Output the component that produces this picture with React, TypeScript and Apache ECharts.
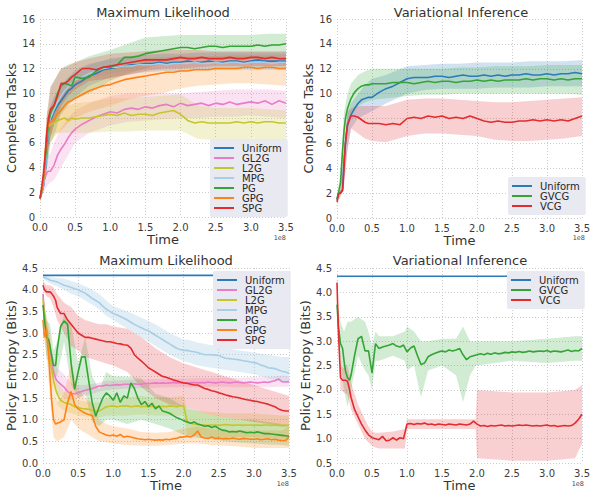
import React, { useEffect, useRef } from "react";
import * as echarts from "echarts";

// ---------- sampling grids (time in units of 1e8) ----------
const XT = [0, 0.02, 0.05, 0.08, 0.1, 0.12, 0.15, 0.2, 0.25, 0.3, 0.35, 0.4, 0.45, 0.5, 0.6, 0.7, 0.8, 0.9, 1.0, 1.1, 1.2, 1.3, 1.4, 1.5, 1.6, 1.7, 1.8, 1.9, 2.0, 2.1, 2.2, 2.3, 2.4, 2.5, 2.6, 2.7, 2.8, 2.9, 3.0, 3.1, 3.2, 3.3, 3.4, 3.5];
const XTB = [0, 0.05, 0.1, 0.15, 0.2, 0.3, 0.4, 0.5, 0.7, 1.0, 1.25, 1.5, 1.75, 2.0, 2.25, 2.5, 2.75, 3.0, 3.25, 3.5];
const XB = [0, 0.02, 0.05, 0.08, 0.1, 0.12, 0.15, 0.18, 0.2, 0.25, 0.3, 0.35, 0.4, 0.45, 0.5, 0.55, 0.6, 0.65, 0.7, 0.75, 0.8, 0.85, 0.9, 0.95, 1.0, 1.05, 1.1, 1.15, 1.2, 1.25, 1.3, 1.35, 1.4, 1.45, 1.5, 1.55, 1.6, 1.65, 1.7, 1.75, 1.8, 1.85, 1.9, 1.95, 2.0, 2.05, 2.1, 2.15, 2.2, 2.25, 2.3, 2.35, 2.4, 2.45, 2.5, 2.55, 2.6, 2.65, 2.7, 2.75, 2.8, 2.85, 2.9, 2.95, 3.0, 3.05, 3.1, 3.15, 3.2, 3.25, 3.3, 3.35, 3.4, 3.45, 3.5];
const XBB = [0, 0.05, 0.1, 0.15, 0.2, 0.3, 0.4, 0.5, 0.6, 0.7, 0.8, 0.9, 1.0, 1.2, 1.4, 1.6, 1.8, 2.0, 2.05, 2.2, 2.4, 2.6, 2.8, 3.0, 3.2, 3.4, 3.5];
const XRB = [0, 0.05, 0.1, 0.15, 0.2, 0.3, 0.4, 0.45, 0.5, 0.55, 0.6, 0.8, 0.97, 1.0, 1.1, 1.2, 1.3, 1.5, 1.7, 1.8, 1.9, 1.98, 2.0, 2.5, 3.0, 3.4, 3.5];
const X_FLAT = [0, 3.5];

const X_TICKS = [0, 0.5, 1, 1.5, 2, 2.5, 3, 3.5];

// ---------- top-left: Maximum Likelihood, completed tasks ----------
const TL_UNIFORM = [1.5, 1.9, 2.5, 4.0, 5.5, 7.0, 7.8, 8.5, 9.0, 9.4, 9.8, 10.2, 10.4, 10.7, 11.0, 11.4, 11.6, 11.9, 12.0, 12.1, 12.2, 12.3, 12.3, 12.4, 12.4, 12.5, 12.4, 12.5, 12.5, 12.6, 12.5, 12.5, 12.6, 12.5, 12.5, 12.6, 12.6, 12.5, 12.6, 12.7, 12.6, 12.6, 12.6, 12.6];
const TL_GL2G = [1.5, 2.0, 2.8, 3.3, 3.6, 3.7, 3.7, 4.2, 5.0, 5.5, 5.9, 6.4, 6.8, 7.1, 7.5, 7.8, 8.1, 8.3, 8.5, 8.4, 8.7, 8.8, 8.7, 8.9, 8.8, 9.0, 9.1, 8.9, 9.2, 9.0, 9.1, 9.2, 9.0, 9.2, 9.1, 9.3, 9.1, 9.2, 9.3, 9.2, 9.4, 9.1, 9.4, 9.2];
const TL_L2G = [1.5, 2.0, 3.0, 5.2, 6.8, 7.3, 7.5, 7.6, 7.8, 7.9, 8.0, 7.8, 8.0, 7.9, 8.0, 8.0, 8.1, 8.2, 8.3, 8.2, 8.4, 8.2, 8.3, 8.3, 8.2, 8.4, 8.5, 8.6, 8.3, 7.8, 7.6, 7.7, 7.6, 7.6, 7.6, 7.6, 7.7, 7.6, 7.7, 7.6, 7.7, 7.7, 7.6, 7.6];
const TL_MPG = [1.5, 1.9, 2.6, 4.2, 5.8, 7.2, 8.0, 8.7, 9.3, 9.8, 10.2, 10.5, 10.8, 11.1, 11.3, 11.6, 11.8, 12.0, 12.1, 12.1, 12.2, 12.2, 12.3, 12.3, 12.3, 12.4, 12.3, 12.4, 12.4, 12.4, 12.5, 12.4, 12.4, 12.5, 12.4, 12.5, 12.5, 12.4, 12.5, 12.5, 12.5, 12.4, 12.5, 12.5];
const TL_PG = [1.5, 2.0, 3.0, 4.8, 6.0, 7.5, 8.4, 9.0, 10.0, 10.6, 10.8, 10.7, 10.6, 11.3, 11.2, 11.3, 11.8, 12.1, 12.1, 12.3, 12.9, 12.9, 13.0, 13.2, 13.3, 13.4, 13.5, 13.6, 13.7, 13.7, 13.6, 13.7, 13.8, 13.8, 13.7, 13.8, 13.8, 13.8, 13.8, 13.9, 13.8, 13.9, 13.9, 14.0];
const TL_GPG = [1.5, 2.0, 3.0, 5.5, 7.0, 7.5, 7.7, 7.9, 8.3, 8.6, 9.0, 9.3, 9.4, 9.6, 9.9, 10.2, 10.4, 10.6, 10.7, 10.9, 11.1, 11.2, 11.3, 11.4, 11.5, 11.6, 11.7, 11.7, 11.8, 11.8, 11.9, 11.9, 11.9, 12.0, 12.0, 12.0, 12.0, 12.1, 12.1, 12.0, 12.1, 12.1, 12.0, 12.0];
const TL_SPG = [1.5, 2.2, 3.5, 5.5, 7.0, 8.0, 8.7, 9.0, 9.8, 10.8, 10.8, 11.0, 11.3, 11.5, 12.0, 12.0, 11.9, 12.1, 12.2, 12.3, 12.4, 12.5, 12.6, 12.7, 12.7, 12.7, 12.7, 12.8, 12.9, 12.8, 12.8, 12.9, 12.8, 12.8, 12.8, 12.9, 12.8, 12.8, 12.9, 12.9, 12.8, 12.9, 12.8, 12.8];

const TL_UNIFORM_LO = [1.3, 2.0, 4.0, 6.5, 7.5, 8.3, 9.0, 9.7, 10.6, 11.3, 11.5, 11.7, 11.8, 11.8, 11.9, 11.9, 11.9, 11.9, 11.9, 11.9];
const TL_UNIFORM_HI = [1.8, 3.2, 7.0, 9.0, 9.7, 10.6, 11.3, 11.7, 12.3, 12.8, 13.0, 13.1, 13.2, 13.2, 13.3, 13.3, 13.3, 13.3, 13.3, 13.3];
const TL_GL2G_LO = [1.3, 2.0, 2.5, 2.8, 3.0, 4.0, 5.0, 6.0, 6.8, 7.4, 7.7, 7.8, 7.9, 8.0, 8.0, 8.1, 8.1, 8.2, 8.1, 8.0];
const TL_GL2G_HI = [1.8, 3.4, 4.8, 5.2, 6.0, 7.2, 8.0, 8.6, 9.2, 9.8, 10.0, 10.0, 10.0, 10.0, 10.1, 10.2, 10.3, 10.3, 10.3, 10.2];
const TL_L2G_LO = [1.3, 2.5, 5.5, 6.5, 6.8, 6.8, 6.8, 6.8, 6.8, 6.9, 6.9, 7.0, 7.0, 7.0, 6.3, 6.2, 6.2, 6.2, 6.1, 6.0];
const TL_L2G_HI = [1.8, 3.5, 8.0, 8.5, 8.6, 8.9, 9.0, 9.2, 9.3, 9.6, 9.6, 9.7, 9.8, 9.9, 9.0, 8.8, 8.8, 8.8, 8.7, 8.6];
const TL_MPG_LO = [1.3, 2.2, 4.5, 7.0, 7.9, 9.0, 9.8, 10.5, 11.2, 11.6, 11.8, 11.9, 11.9, 12.0, 12.0, 12.0, 12.0, 12.0, 12.0, 12.0];
const TL_MPG_HI = [1.8, 3.2, 7.0, 9.0, 9.5, 10.6, 11.2, 11.9, 12.4, 12.7, 12.8, 12.8, 12.9, 12.9, 12.9, 13.0, 13.0, 13.0, 13.0, 13.0];
const TL_PG_LO = [1.3, 2.2, 4.0, 6.0, 6.5, 8.5, 9.2, 9.5, 10.0, 11.0, 11.6, 12.0, 12.4, 12.8, 12.8, 12.8, 12.8, 12.8, 12.9, 13.0];
const TL_PG_HI = [1.8, 4.0, 8.0, 10.5, 11.0, 12.0, 12.3, 12.5, 13.0, 13.5, 14.0, 14.5, 14.6, 14.7, 14.7, 14.7, 14.7, 14.7, 14.8, 14.8];
const TL_GPG_LO = [1.3, 2.2, 5.0, 6.0, 6.5, 7.0, 7.6, 8.0, 8.5, 9.0, 9.5, 9.8, 10.0, 10.4, 10.6, 10.7, 10.8, 10.8, 10.7, 10.6];
const TL_GPG_HI = [1.8, 3.8, 8.5, 9.0, 9.3, 10.0, 10.6, 11.0, 11.6, 12.0, 12.4, 12.8, 12.9, 13.0, 13.0, 13.0, 13.1, 13.1, 13.1, 13.1];
const TL_SPG_LO = [1.3, 2.5, 5.0, 6.5, 7.5, 9.0, 9.8, 10.3, 11.0, 11.2, 11.5, 11.8, 12.0, 12.0, 12.1, 12.2, 12.2, 12.2, 12.2, 12.2];
const TL_SPG_HI = [1.8, 4.5, 8.5, 10.5, 11.0, 12.0, 12.2, 12.5, 12.8, 13.2, 13.3, 13.4, 13.5, 13.5, 13.5, 13.4, 13.4, 13.4, 13.4, 13.4];

// ---------- top-right: Variational Inference, completed tasks ----------
const TR_UNIFORM = [1.5, 2.0, 2.0, 2.3, 4.5, 6.0, 7.5, 8.3, 8.8, 9.2, 9.5, 9.6, 9.7, 9.7, 10.1, 10.4, 10.6, 10.9, 11.2, 11.3, 11.3, 11.3, 11.4, 11.4, 11.3, 11.4, 11.5, 11.4, 11.4, 11.5, 11.4, 11.5, 11.4, 11.5, 11.5, 11.6, 11.5, 11.5, 11.6, 11.5, 11.6, 11.6, 11.7, 11.6];
const TR_GVCG = [1.5, 2.0, 2.8, 5.5, 7.0, 8.0, 8.8, 9.6, 10.1, 10.4, 10.6, 10.7, 10.7, 10.8, 10.8, 10.8, 10.9, 10.9, 10.9, 10.8, 10.9, 11.0, 10.9, 11.0, 11.0, 10.9, 11.0, 11.0, 11.1, 11.0, 11.1, 11.0, 11.1, 11.1, 11.1, 11.2, 11.1, 11.2, 11.2, 11.1, 11.2, 11.1, 11.2, 11.2];
const TR_VCG = [1.3, 1.9, 2.0, 2.2, 4.0, 6.0, 7.5, 8.2, 8.2, 8.1, 7.9, 7.7, 7.6, 7.6, 7.6, 7.5, 7.6, 7.5, 8.0, 8.1, 8.0, 8.2, 8.1, 8.2, 8.0, 8.1, 8.0, 8.2, 8.0, 7.8, 7.7, 7.8, 7.7, 7.7, 7.8, 7.8, 7.9, 7.8, 7.9, 7.8, 7.9, 7.8, 8.0, 8.2];

const TR_UNIFORM_LO = [1.3, 1.8, 2.8, 5.5, 7.2, 8.0, 8.3, 8.6, 9.2, 10.0, 10.3, 10.4, 10.4, 10.4, 10.5, 10.5, 10.5, 10.6, 10.6, 10.6];
const TR_UNIFORM_HI = [1.8, 2.3, 5.5, 8.5, 9.2, 10.0, 10.7, 11.2, 11.5, 12.2, 12.3, 12.4, 12.4, 12.5, 12.5, 12.5, 12.6, 12.6, 12.6, 12.7];
const TR_GVCG_LO = [1.3, 2.2, 5.0, 7.0, 8.2, 9.0, 9.3, 9.5, 9.6, 9.8, 9.9, 9.9, 10.0, 10.0, 10.0, 10.0, 10.0, 10.0, 10.0, 9.9];
const TR_GVCG_HI = [1.8, 3.5, 8.5, 10.0, 10.8, 11.5, 11.8, 12.0, 12.0, 12.0, 12.0, 12.0, 12.1, 12.1, 12.2, 12.2, 12.2, 12.3, 12.3, 12.3];
const TR_VCG_LO = [1.1, 1.7, 2.5, 5.5, 7.2, 6.8, 6.4, 6.2, 6.1, 6.6, 6.8, 6.8, 6.7, 6.6, 6.3, 6.2, 6.2, 6.3, 6.4, 6.6];
const TR_VCG_HI = [1.5, 2.3, 5.0, 8.5, 8.8, 9.0, 9.0, 9.0, 9.0, 9.5, 9.6, 9.6, 9.5, 9.4, 9.3, 9.3, 9.4, 9.5, 9.6, 9.7];

// ---------- bottom-left: Maximum Likelihood, policy entropy ----------
const BL_UNIFORM = [4.33, 4.33];
const BL_GL2G = [3.9, 3.4, 3.0, 2.7, 2.5, 2.35, 2.1, 1.95,
  1.9, 1.82, 1.75, 1.65, 1.6, 1.6, 1.62, 1.65, 1.68, 1.7,
  1.72, 1.75, 1.78, 1.78, 1.8, 1.79, 1.8, 1.81, 1.8, 1.82,
  1.82, 1.81, 1.83, 1.82, 1.82, 1.84, 1.83, 1.84, 1.85, 1.84,
  1.85, 1.84, 1.85, 1.86, 1.85, 1.86, 1.85, 1.84, 1.85, 1.86,
  1.85, 1.86, 1.85, 1.87, 1.86, 1.85, 1.86, 1.87, 1.86, 1.85,
  1.86, 1.87, 1.86, 1.85, 1.86, 1.87, 1.86, 1.85, 1.86, 1.87,
  1.86, 1.88, 1.9, 1.94, 1.88, 1.87, 1.88];
const BL_L2G = [3.8, 3.4, 3.0, 2.6, 2.4, 2.2, 1.9, 1.7,
  1.6, 1.45, 1.4, 1.38, 1.35, 1.3, 1.28, 1.26, 1.25, 1.24,
  1.22, 1.2, 1.2, 1.25, 1.3, 1.31, 1.32, 1.3, 1.31, 1.32,
  1.32, 1.3, 1.31, 1.32, 1.3, 1.31, 1.3, 1.31, 1.3, 1.3,
  1.31, 1.3, 1.32, 1.31, 1.3, 1.32, 1.33, 0.96, 0.92, 0.9,
  0.89, 0.88, 0.88, 0.87, 0.88, 0.88, 0.87, 0.88, 0.89, 0.88,
  0.87, 0.88, 0.88, 0.87, 0.88, 0.88, 0.87, 0.88, 0.87, 0.88,
  0.88, 0.87, 0.88, 0.87, 0.86, 0.87, 0.87];
const BL_MPG = [4.3, 4.28, 4.26, 4.24, 4.22, 4.21, 4.2, 4.19,
  4.18, 4.14, 4.1, 4.08, 4.05, 4.02, 4.0, 3.96, 3.92, 3.86,
  3.8, 3.75, 3.7, 3.62, 3.55, 3.5, 3.45, 3.42, 3.38, 3.34,
  3.3, 3.25, 3.2, 3.16, 3.12, 3.08, 3.05, 3.0, 2.95, 2.9,
  2.85, 2.8, 2.75, 2.7, 2.65, 2.62, 2.6, 2.6, 2.58, 2.57,
  2.55, 2.52, 2.5, 2.5, 2.5, 2.49, 2.48, 2.45, 2.42, 2.41,
  2.4, 2.39, 2.38, 2.36, 2.35, 2.33, 2.32, 2.3, 2.26, 2.24,
  2.2, 2.19, 2.18, 2.15, 2.12, 2.1, 2.07];
const BL_PG = [3.65, 3.3, 2.9, 2.85, 2.7, 2.5, 2.25, 2.25,
  2.6, 3.15, 3.28, 3.2, 2.3, 1.7, 2.1, 2.45, 2.45, 1.9,
  1.4, 1.08, 1.3, 1.5, 1.62, 1.55, 1.45, 1.62, 1.4, 1.55,
  1.5, 1.85, 1.72, 1.5, 1.35, 1.42, 1.3, 1.38, 1.25, 1.32,
  1.2, 1.18, 1.15, 1.1, 1.05, 1.02, 0.98, 0.95, 0.92, 0.95,
  0.9, 0.88, 0.85, 0.86, 0.82, 0.85, 0.8, 0.76, 0.75, 0.72,
  0.73, 0.72, 0.74, 0.72, 0.7, 0.71, 0.7, 0.72, 0.7, 0.68,
  0.68, 0.67, 0.66, 0.65, 0.64, 0.63, 0.62];
const BL_GPG = [3.3, 2.9, 3.1, 2.5, 2.0, 1.5, 1.0, 0.9,
  0.92, 0.95, 1.0, 1.4, 1.65, 1.35, 1.25, 1.2, 1.15, 1.12,
  1.1, 0.85, 0.72, 0.68, 0.65, 0.63, 0.65, 0.62, 0.66, 0.6,
  0.62, 0.6, 0.58, 0.56, 0.55, 0.54, 0.55, 0.54, 0.53, 0.54,
  0.53, 0.55, 0.54, 0.56, 0.57, 0.6, 0.6, 0.62, 0.6, 0.65,
  0.74, 0.6, 0.58, 0.57, 0.6, 0.57, 0.58, 0.56, 0.57, 0.56,
  0.58, 0.56, 0.55, 0.57, 0.56, 0.55, 0.55, 0.56, 0.54, 0.55,
  0.56, 0.54, 0.55, 0.53, 0.52, 0.52, 0.6];
const BL_SPG = [4.1, 4.0, 3.95, 3.95, 3.95, 3.92, 3.85, 3.75,
  3.6, 3.45, 3.45, 3.3, 3.2, 3.1, 3.0, 2.95, 2.9, 2.9,
  2.88, 2.86, 2.84, 2.82, 2.8, 2.8, 2.78, 2.76, 2.75, 2.73,
  2.72, 2.65, 2.5, 2.42, 2.35, 2.28, 2.2, 2.15, 2.1, 2.05,
  2.0, 1.98, 1.95, 1.92, 1.9, 1.87, 1.85, 1.84, 1.82, 1.8,
  1.8, 1.76, 1.72, 1.7, 1.67, 1.65, 1.62, 1.6, 1.57, 1.55,
  1.53, 1.52, 1.5, 1.48, 1.46, 1.45, 1.43, 1.42, 1.4, 1.38,
  1.36, 1.33, 1.3, 1.25, 1.22, 1.2, 1.2];

const BL_GL2G_LO = [3.7, 2.7, 2.2, 1.9, 1.6, 1.5, 1.45, 1.5, 1.55, 1.6, 1.65, 1.68, 1.7, 1.72, 1.73, 1.74, 1.75, 1.75, 1.75, 1.75, 1.76, 1.76, 1.75, 1.76, 1.75, 1.76, 1.76];
const BL_GL2G_HI = [4.0, 3.3, 2.8, 2.4, 2.2, 2.05, 1.85, 1.8, 1.8, 1.82, 1.86, 1.9, 1.9, 1.92, 1.92, 1.94, 1.95, 1.95, 1.95, 1.96, 1.96, 1.97, 1.97, 1.98, 1.98, 2.02, 2.0];
const BL_L2G_LO = [3.6, 2.7, 2.1, 1.6, 1.35, 1.2, 1.15, 1.1, 1.08, 1.05, 1.05, 1.1, 1.1, 1.1, 1.12, 1.1, 1.1, 1.1, 0.65, 0.62, 0.6, 0.6, 0.6, 0.6, 0.58, 0.57, 0.55];
const BL_L2G_HI = [4.0, 3.3, 2.7, 2.2, 1.9, 1.65, 1.55, 1.45, 1.42, 1.4, 1.4, 1.5, 1.5, 1.52, 1.55, 1.52, 1.52, 1.55, 1.25, 1.2, 1.18, 1.15, 1.15, 1.15, 1.12, 1.1, 1.1];
const BL_MPG_LO = [4.25, 4.2, 4.15, 4.1, 4.08, 4.0, 3.9, 3.85, 3.75, 3.65, 3.55, 3.4, 3.3, 3.1, 2.9, 2.7, 2.5, 2.35, 2.33, 2.25, 2.2, 2.15, 2.1, 2.05, 1.95, 1.88, 1.85];
const BL_MPG_HI = [4.35, 4.32, 4.3, 4.28, 4.27, 4.25, 4.2, 4.15, 4.08, 4.0, 3.9, 3.75, 3.62, 3.5, 3.35, 3.2, 3.0, 2.85, 2.85, 2.78, 2.72, 2.65, 2.6, 2.55, 2.5, 2.45, 2.45];
const BL_PG_LO = [3.4, 2.4, 2.3, 2.0, 2.0, 2.8, 1.8, 1.5, 1.6, 0.95, 0.85, 1.0, 1.0, 0.9, 1.0, 0.9, 0.8, 0.65, 0.62, 0.58, 0.55, 0.5, 0.47, 0.45, 0.43, 0.42, 0.4];
const BL_PG_HI = [3.9, 3.3, 3.2, 2.6, 2.8, 3.45, 3.2, 2.3, 2.9, 2.0, 1.7, 2.1, 2.0, 2.0, 1.95, 1.6, 1.5, 1.3, 1.28, 1.2, 1.1, 1.05, 1.0, 1.0, 0.95, 0.9, 0.88];
const BL_GPG_LO = [3.0, 2.5, 1.5, 0.6, 0.5, 0.6, 1.0, 0.8, 0.7, 0.6, 0.5, 0.48, 0.45, 0.42, 0.4, 0.4, 0.42, 0.45, 0.45, 0.45, 0.42, 0.4, 0.38, 0.35, 0.35, 0.35, 0.35];
const BL_GPG_HI = [3.6, 3.4, 3.0, 1.6, 1.4, 1.6, 2.3, 1.7, 1.5, 1.4, 1.0, 0.9, 0.85, 0.8, 0.72, 0.7, 0.72, 0.8, 0.8, 0.85, 0.78, 0.75, 0.75, 0.75, 0.75, 0.75, 0.85];
const BL_SPG_LO = [4.0, 3.85, 3.8, 3.6, 3.3, 3.0, 2.7, 2.6, 2.45, 2.4, 2.35, 2.3, 2.25, 2.1, 1.75, 1.5, 1.35, 1.3, 1.28, 1.2, 1.1, 1.05, 1.0, 0.95, 0.9, 0.85, 0.85];
const BL_SPG_HI = [4.2, 4.1, 4.1, 4.05, 3.9, 3.7, 3.6, 3.4, 3.3, 3.25, 3.2, 3.2, 3.15, 3.1, 2.9, 2.65, 2.45, 2.3, 2.28, 2.2, 2.1, 2.0, 1.9, 1.8, 1.7, 1.6, 1.55];

// ---------- bottom-right: Variational Inference, policy entropy ----------
const BR_UNIFORM = [4.33, 4.33];
const BR_GVCG = [3.75, 3.3, 2.95, 2.85, 2.6, 2.4, 2.25, 2.2,
  2.3, 2.7, 3.05, 3.1, 2.8, 2.8, 2.35, 2.95, 2.85, 2.88,
  2.9, 2.92, 2.95, 2.9, 2.88, 2.92, 2.78, 2.86, 2.9, 2.7,
  2.52, 2.55, 2.68, 2.72, 2.75, 2.78, 2.8, 2.78, 2.82, 2.8,
  2.82, 2.85, 2.72, 2.62, 2.68, 2.7, 2.72, 2.74, 2.72, 2.75,
  2.73, 2.76, 2.74, 2.75, 2.77, 2.76, 2.78, 2.77, 2.79, 2.77,
  2.78, 2.8, 2.78, 2.79, 2.8, 2.79, 2.81, 2.78, 2.8, 2.79,
  2.78, 2.8, 2.82, 2.79, 2.81, 2.8, 2.85];
const BR_VCG = [4.2, 3.2, 2.25, 2.2, 2.2, 2.2, 2.18, 2.0,
  1.85, 1.6, 1.45, 1.3, 1.18, 1.08, 1.02, 1.0, 0.98, 1.05,
  0.96, 0.97, 1.02, 0.97, 1.02, 1.0, 1.3, 1.31, 1.29, 1.31,
  1.3, 1.32, 1.29, 1.3, 1.28, 1.3, 1.29, 1.28, 1.3, 1.29,
  1.28, 1.3, 1.29, 1.28, 1.3, 1.36, 1.3, 1.26, 1.27, 1.25,
  1.27, 1.26, 1.27, 1.28, 1.26, 1.27, 1.26, 1.27, 1.28, 1.27,
  1.28, 1.27, 1.26, 1.27, 1.26, 1.27, 1.28, 1.26, 1.27, 1.25,
  1.26, 1.27, 1.26, 1.27, 1.32, 1.4, 1.5];

const BR_GVCG_LO = [3.7, 2.6, 2.0, 1.65, 2.0, 2.7, 2.4, 2.3, 2.0, 2.6, 2.6, 2.7, 2.6, 2.4, 2.5, 1.85, 2.4, 2.5, 2.3, 1.75, 2.3, 2.5, 2.5, 2.6, 2.55, 2.6, 2.6];
const BR_GVCG_HI = [3.8, 3.4, 3.2, 3.4, 3.4, 3.5, 3.4, 3.2, 2.9, 3.2, 3.1, 3.1, 3.2, 3.3, 3.2, 3.0, 3.0, 3.05, 3.05, 3.3, 3.0, 3.0, 3.0, 3.0, 3.05, 3.1, 3.1];
const BR_VCG_LO = [4.1, 2.0, 1.95, 1.9, 1.6, 1.3, 1.0, 0.92, 0.85, 0.82, 0.8, 0.8, 0.8, 1.2, 1.2, 1.2, 1.2, 1.2, 1.2, 1.2, 1.2, 1.2, 0.6, 0.55, 0.55, 0.6, 0.9];
const BR_VCG_HI = [4.3, 2.5, 2.45, 2.5, 2.15, 1.7, 1.4, 1.25, 1.15, 1.12, 1.12, 1.15, 1.2, 1.4, 1.4, 1.4, 1.4, 1.4, 1.4, 1.4, 1.4, 1.4, 2.0, 1.95, 1.95, 2.0, 2.1];

// ---------- colours ----------
const C_UNIFORM = "#2b7bba";
const C_GL2G = "#e87cc6";
const C_L2G = "#c6c62a";
const C_MPG = "#a8cde6";
const C_PG = "#34a535";
const C_GPG = "#ff8216";
const C_SPG = "#e42b2e";

const FONT = "DejaVu Sans";

function pairs(xs: number[], ys: number[]) {
  const n = Math.min(xs.length, ys.length);
  const out: number[][] = [];
  for (let i = 0; i < n; i++) out.push([xs[i], ys[i]]);
  return out;
}

function rgba(hex: string, a: number) {
  const r = parseInt(hex.slice(1, 3), 16);
  const g = parseInt(hex.slice(3, 5), 16);
  const b = parseInt(hex.slice(5, 7), 16);
  return `rgba(${r},${g},${b},${a})`;
}

function band(idx: number, xs: number[], lo: number[], hi: number[], color: string, alpha = 0.22) {
  const n = Math.min(xs.length, lo.length, hi.length);
  return {
    type: "custom",
    name: "band",
    xAxisIndex: idx,
    yAxisIndex: idx,
    silent: true,
    z: 1,
    data: [[1, 2]],
    renderItem: (params: any, api: any) => {
      if (params.dataIndex > 0) return null;
      const pts: number[][] = [];
      for (let i = 0; i < n; i++) pts.push(api.coord([xs[i], hi[i]]));
      for (let i = n - 1; i >= 0; i--) pts.push(api.coord([xs[i], lo[i]]));
      return { type: "polygon", shape: { points: pts }, style: { fill: rgba(color, alpha), stroke: null } };
    },
  };
}

function line(idx: number, name: string, xs: number[], ys: number[], color: string) {
  return {
    type: "line",
    name,
    xAxisIndex: idx,
    yAxisIndex: idx,
    data: pairs(xs, ys),
    showSymbol: false,
    symbol: "none",
    z: 3,
    lineStyle: { width: 1.6, color },
    itemStyle: { color },
    emphasis: { disabled: true },
  };
}

const grids = [
  { left: 40, top: 19, width: 246, height: 198 },
  { left: 337, top: 19, width: 248, height: 199 },
  { left: 43, top: 268, width: 246, height: 196 },
  { left: 337, top: 268, width: 247, height: 196 },
];

const tickLabel = { color: "#3c3c3c", fontSize: 10, fontFamily: FONT };
const gridLine = { show: true, lineStyle: { color: "#c4c4c4", type: [1, 2], width: 0.9 } };

function xAxis(idx: number) {
  return {
    type: "value",
    gridIndex: idx,
    min: X_TICKS[0],
    max: X_TICKS[X_TICKS.length - 1],
    interval: 0.5,
    name: "Time",
    nameLocation: "middle",
    nameGap: 13,
    nameTextStyle: { fontSize: 13, color: "#333", fontFamily: FONT },
    axisLine: { show: false },
    axisTick: { show: false },
    axisLabel: { ...tickLabel, margin: 5, formatter: (v: number) => v.toFixed(1) },
    splitLine: gridLine,
  };
}

function yAxis(idx: number, min: number, max: number, interval: number, name: string, gap: number, decimals: number) {
  return {
    type: "value",
    gridIndex: idx,
    min,
    max,
    interval,
    name,
    nameLocation: "middle",
    nameGap: gap,
    nameTextStyle: { fontSize: 13, color: "#333", fontFamily: FONT },
    axisLine: { show: false },
    axisTick: { show: false },
    axisLabel: { ...tickLabel, margin: 5, formatter: (v: number) => v.toFixed(decimals) },
    splitLine: gridLine,
  };
}

function legend(left: number, top: number, names: string[]) {
  return {
    orient: "vertical",
    left,
    top,
    data: names,
    icon: "rect",
    itemWidth: 20,
    itemHeight: 2,
    itemGap: 0,
    padding: [4, 6, 4, 4],
    backgroundColor: "#e9e9f1",
    borderRadius: 2,
    selectedMode: false,
    textStyle: { fontSize: 10, color: "#262626", fontFamily: FONT, lineHeight: 9.8, padding: [0, 0, 0, 3] },
  };
}

function title(x: number, y: number, text: string) {
  return {
    type: "text",
    x,
    y,
    silent: true,
    style: { text, fontSize: 13, fontFamily: FONT, fill: "#333", textAlign: "center", textVerticalAlign: "middle" },
  };
}

function offsetText(x: number, y: number) {
  return {
    type: "text",
    x,
    y,
    silent: true,
    style: { text: "1e8", fontSize: 6.5, fontFamily: FONT, fill: "#444", textAlign: "right", textVerticalAlign: "middle" },
  };
}

export default function App() {
  const ref = useRef<HTMLDivElement>(null);
  useEffect(() => {
    if (!ref.current) return;
    const chart = echarts.init(ref.current, undefined, { renderer: "svg" });
    const series: any[] = [
      // bands
      band(0, XTB, TL_UNIFORM_LO, TL_UNIFORM_HI, C_UNIFORM),
      band(0, XTB, TL_GL2G_LO, TL_GL2G_HI, C_GL2G),
      band(0, XTB, TL_L2G_LO, TL_L2G_HI, C_L2G),
      band(0, XTB, TL_MPG_LO, TL_MPG_HI, C_MPG, 0.35),
      band(0, XTB, TL_PG_LO, TL_PG_HI, C_PG),
      band(0, XTB, TL_GPG_LO, TL_GPG_HI, C_GPG),
      band(0, XTB, TL_SPG_LO, TL_SPG_HI, C_SPG),
      band(1, XTB, TR_UNIFORM_LO, TR_UNIFORM_HI, C_UNIFORM),
      band(1, XTB, TR_GVCG_LO, TR_GVCG_HI, C_PG),
      band(1, XTB, TR_VCG_LO, TR_VCG_HI, C_SPG),
      band(2, XBB, BL_GL2G_LO, BL_GL2G_HI, C_GL2G),
      band(2, XBB, BL_L2G_LO, BL_L2G_HI, C_L2G),
      band(2, XBB, BL_MPG_LO, BL_MPG_HI, C_MPG, 0.35),
      band(2, XBB, BL_PG_LO, BL_PG_HI, C_PG),
      band(2, XBB, BL_GPG_LO, BL_GPG_HI, C_GPG),
      band(2, XBB, BL_SPG_LO, BL_SPG_HI, C_SPG),
      band(3, XRB, BR_GVCG_LO, BR_GVCG_HI, C_PG),
      band(3, XRB, BR_VCG_LO, BR_VCG_HI, C_SPG),
      // lines
      line(0, "Uniform", XT, TL_UNIFORM, C_UNIFORM),
      line(0, "GL2G", XT, TL_GL2G, C_GL2G),
      line(0, "L2G", XT, TL_L2G, C_L2G),
      line(0, "MPG", XT, TL_MPG, C_MPG),
      line(0, "PG", XT, TL_PG, C_PG),
      line(0, "GPG", XT, TL_GPG, C_GPG),
      line(0, "SPG", XT, TL_SPG, C_SPG),
      line(1, "Uniform", XT, TR_UNIFORM, C_UNIFORM),
      line(1, "GVCG", XT, TR_GVCG, C_PG),
      line(1, "VCG", XT, TR_VCG, C_SPG),
      line(2, "Uniform", X_FLAT, BL_UNIFORM, C_UNIFORM),
      line(2, "GL2G", XB, BL_GL2G, C_GL2G),
      line(2, "L2G", XB, BL_L2G, C_L2G),
      line(2, "MPG", XB, BL_MPG, C_MPG),
      line(2, "PG", XB, BL_PG, C_PG),
      line(2, "GPG", XB, BL_GPG, C_GPG),
      line(2, "SPG", XB, BL_SPG, C_SPG),
      line(3, "Uniform", X_FLAT, BR_UNIFORM, C_UNIFORM),
      line(3, "GVCG", XB, BR_GVCG, C_PG),
      line(3, "VCG", XB, BR_VCG, C_SPG),
    ];
    const ml = ["Uniform", "GL2G", "L2G", "MPG", "PG", "GPG", "SPG"];
    const vi = ["Uniform", "GVCG", "VCG"];
    chart.setOption({
      animation: false,
      backgroundColor: "#ffffff",
      grid: grids,
      xAxis: [xAxis(0), xAxis(1), xAxis(2), xAxis(3)],
      yAxis: [
        yAxis(0, 0, 16, 2, "Completed Tasks", 12, 0),
        yAxis(1, 0, 16, 2, "Completed Tasks", 12, 0),
        yAxis(2, 0, 4.5, 0.5, "Policy Entropy (Bits)", 15, 1),
        yAxis(3, 0.5, 4.5, 0.5, "Policy Entropy (Bits)", 15, 1),
      ],
      legend: [legend(210, 139, ml), legend(508, 177, vi), legend(213, 271, ml), legend(507, 271, vi)],
      graphic: [
        title(163, 12, "Maximum Likelihood"),
        title(461, 12, "Variational Inference"),
        title(166, 260, "Maximum Likelihood"),
        title(460, 260, "Variational Inference"),
        offsetText(286, 238),
        offsetText(585, 238),
        offsetText(289, 484),
        offsetText(584, 484),
      ],
      series,
    });
    return () => chart.dispose();
  }, []);
  return <div ref={ref} style={{ position: "absolute", left: 0, top: 0, width: 593, height: 493 }} />;
}
